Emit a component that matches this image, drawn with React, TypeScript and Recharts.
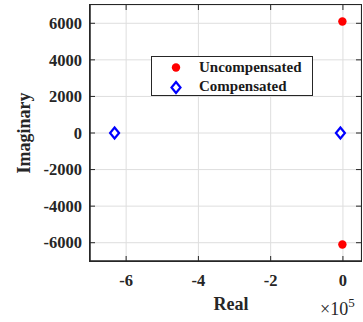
import React from 'react';
import { ScatterChart, Scatter, XAxis, YAxis, CartesianGrid } from 'recharts';

const uncompensated = [
  { x: -1500, y: 6100 },
  { x: -1500, y: -6100 },
];
const compensated = [
  { x: -632000, y: 0 },
  { x: -7000, y: 0 },
];
const xTicks = [-600000, -400000, -200000, 0];
const yTicks = [-6000, -4000, -2000, 0, 2000, 4000, 6000];
const xDomain = [-700000, 50000];
const yDomain = [-7000, 7000];

const FONT = '"Liberation Serif", "Times New Roman", serif';
const AXIS = '#262626';
const GRID = '#dedede';
const PL = 90;
const PR = 361;
const PT = 5;
const PB = 261;

const Dot = (props: any) => {
  const { cx, cy } = props;
  return <circle cx={cx} cy={cy} r={4.2} fill="#ff0000" />;
};
const Diamond = (props: any) => {
  const { cx, cy } = props;
  return (
    <polygon
      points={`${cx},${cy - 5.5} ${cx + 4.5},${cy} ${cx},${cy + 5.5} ${cx - 4.5},${cy}`}
      fill="#fff"
      stroke="#0000ff"
      strokeWidth={2.2}
    />
  );
};

const LeftTick = (props: any) => {
  const { y, payload } = props;
  return (
    <g>
      <path d={`M${PL},${y}L${PL + 5},${y}M${PR - 5},${y}L${PR},${y}`} stroke={AXIS} strokeWidth={1} fill="none" />
      <text x={82} y={y} dy="0.35em" textAnchor="end" fontFamily={FONT} fontWeight="bold" fontSize={16.5} fill="#262626">
        {payload.value}
      </text>
    </g>
  );
};
const BottomTick = (props: any) => {
  const { x, payload } = props;
  return (
    <g>
      <path d={`M${x},${PB}L${x},${PB - 5}M${x},${PT}L${x},${PT + 5}`} stroke={AXIS} strokeWidth={1} fill="none" />
      <text x={x} y={280} dy="0.35em" textAnchor="middle" fontFamily={FONT} fontWeight="bold" fontSize={16.5} fill="#262626">
        {payload.value / 100000}
      </text>
    </g>
  );
};

const legendStyle: React.CSSProperties = {
  position: 'absolute',
  left: 151,
  top: 56,
  width: 162,
  height: 40,
  border: `1px solid ${AXIS}`,
  background: '#fff',
  fontFamily: FONT,
  fontWeight: 'bold',
  fontSize: 15,
  color: '#1a1a1a',
  boxSizing: 'border-box',
};

const frameStyle: React.CSSProperties = {
  position: 'absolute',
  left: PL - 1,
  top: PT - 1,
  width: PR - PL + 2,
  height: PB - PT + 2,
  border: `1.5px solid ${AXIS}`,
  boxSizing: 'border-box',
  pointerEvents: 'none',
};

export default function App() {
  return (
    <div style={{ position: 'absolute', left: 0, top: 0, width: 363, height: 322, background: '#fff' }}>
      <ScatterChart width={363} height={322} margin={{ top: 5, right: 2, left: 0, bottom: 0 }}>
        <CartesianGrid stroke={GRID} strokeWidth={1} />
        <XAxis
          type="number"
          dataKey="x"
          domain={xDomain}
          ticks={xTicks}
          height={61}
          axisLine={{ stroke: AXIS, strokeWidth: 1.5 }}
          tickLine={false}
          tick={<BottomTick />}
          allowDataOverflow
        />
        <YAxis
          type="number"
          dataKey="y"
          domain={yDomain}
          ticks={yTicks}
          width={90}
          axisLine={{ stroke: AXIS, strokeWidth: 1.5 }}
          tickLine={false}
          tick={<LeftTick />}
          allowDataOverflow
        />
        <Scatter name="Uncompensated" data={uncompensated} shape={<Dot />} isAnimationActive={false} />
        <Scatter name="Compensated" data={compensated} shape={<Diamond />} isAnimationActive={false} />
        <text x={24} y={133} transform="rotate(-90 24 133)" textAnchor="middle" dy="0.35em" fontFamily={FONT} fontWeight="bold" fontSize={18} fill="#262626">
          Imaginary
        </text>
        <text x={231} y={304} textAnchor="middle" dy="0.35em" fontFamily={FONT} fontWeight="bold" fontSize={18} fill="#262626">
          Real
        </text>
        <text x={320} y={309} dy="0.35em" fontFamily={FONT} fontSize={18} fill="#262626">
          ×10<tspan dy="-8" fontSize={13}>5</tspan>
        </text>
      </ScatterChart>
      <div style={frameStyle} />
      <div style={legendStyle}>
        <svg width={30} height={38} style={{ position: 'absolute', left: 10, top: 0 }}>
          <circle cx={14} cy={10.5} r={4.2} fill="#ff0000" />
          <polygon points="14,25 18.5,30.5 14,36 9.5,30.5" fill="#fff" stroke="#0000ff" strokeWidth={2.2} />
        </svg>
        <div style={{ position: 'absolute', left: 47, top: 1, lineHeight: '19px' }}>Uncompensated</div>
        <div style={{ position: 'absolute', left: 47, top: 20, lineHeight: '19px' }}>Compensated</div>
      </div>
    </div>
  );
}
